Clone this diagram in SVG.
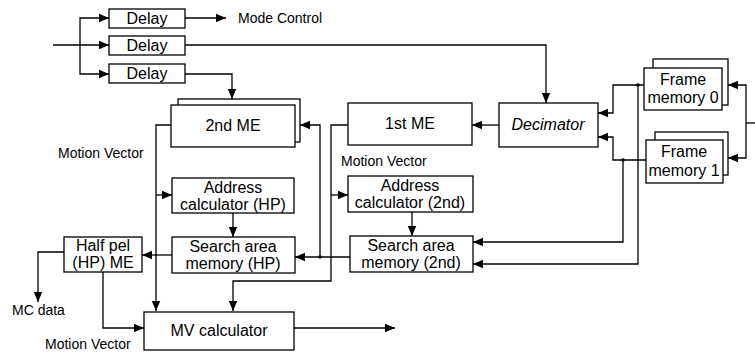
<svg xmlns="http://www.w3.org/2000/svg" width="755" height="354" viewBox="0 0 755 354">
<defs>
<marker id="ah" markerUnits="userSpaceOnUse" markerWidth="10" markerHeight="10" viewBox="0 0 10 10" refX="10" refY="5" orient="auto">
<path d="M0,0.8 L10,5 L0,9.2 Z" fill="#000"/>
</marker>
<style>
.b{fill:#fff;stroke:#000;stroke-width:1.3}
.c{fill:none;stroke:#000;stroke-width:1.3}
.a{marker-end:url(#ah)}
text{font-family:"Liberation Sans",Arial,sans-serif;fill:#000}
.t{font-size:16px;text-anchor:middle}
.l{font-size:14px}
.i{font-style:italic}
</style>
</defs>
<rect width="755" height="354" fill="#fff"/>
<g id="connectors">
<path class="c a" d="M53,45 H109"/>
<path class="c a" d="M80,45 V18 H109"/>
<path class="c a" d="M80,45 V74 H109"/>
<path class="c a" d="M185,18 H226"/>
<path class="c a" d="M185,45 H546 V103"/>
<path class="c a" d="M185,74 H232 V99"/>
<path class="c a" d="M320,257 V125 H300"/>
<path class="c a" d="M499,125 H472"/>
<path class="c a" d="M171,125 H156 V311"/>
<path class="c a" d="M156,195 H172"/>
<path class="c a" d="M348,125 H331 V281 H233 V311"/>
<path class="c a" d="M331,195 H348"/>
<path class="c a" d="M233,213 V237"/>
<path class="c a" d="M412,212 V236"/>
<path class="c a" d="M350,257 H295"/>
<path class="c a" d="M172,255 H142"/>
<path class="c a" d="M64,252 H38 V302"/>
<path class="c a" d="M103,272 V328 H144"/>
<path class="c a" d="M294,328 H395"/>
<path class="c" d="M755,123 H746"/>
<path class="c a" d="M746,123 V85 H728"/>
<path class="c a" d="M746,123 V158 H728"/>
<path class="c a" d="M644,85 H613 V113 H598"/>
<path class="c a" d="M646,160 H613 V137 H598"/>
<path class="c a" d="M638,85 V264 H473"/>
<path class="c a" d="M623,160 V242 H473"/>
<circle cx="320" cy="257" r="1.8"/>
<circle cx="638" cy="85" r="1.8"/>
<circle cx="623" cy="160" r="1.8"/>
</g>
<g id="delay1"><rect class="b" x="109" y="9" width="76" height="19"/><text class="t" x="147" y="24">Delay</text></g>
<g id="delay2"><rect class="b" x="109" y="36" width="76" height="19"/><text class="t" x="147" y="51">Delay</text></g>
<g id="delay3"><rect class="b" x="109" y="64" width="76" height="19"/><text class="t" x="147" y="79">Delay</text></g>
<g id="modecontrol"><text class="l" x="238" y="23">Mode Control</text></g>
<g id="me2"><rect class="b" x="178" y="99" width="122" height="43"/><rect class="b" x="171" y="105" width="124" height="42"/><text class="t" x="233" y="131">2nd ME</text></g>
<g id="me1"><rect class="b" x="348" y="103" width="124" height="42"/><text class="t" x="410" y="129">1st ME</text></g>
<g id="decimator"><rect class="b" x="499" y="103" width="99" height="44"/><text class="t i" x="548" y="130">Decimator</text></g>
<g id="mv1"><text class="l" x="58" y="158">Motion Vector</text></g>
<g id="mv2"><text class="l" x="341" y="166">Motion Vector</text></g>
<g id="addrhp"><rect class="b" x="172" y="178" width="122" height="35"/><text class="t" x="233" y="193">Address</text><text class="t" x="233" y="210">calculator (HP)</text></g>
<g id="addr2"><rect class="b" x="348" y="176" width="125" height="36"/><text class="t" x="410" y="191">Address</text><text class="t" x="410" y="208">calculator (2nd)</text></g>
<g id="searchhp"><rect class="b" x="172" y="237" width="123" height="36"/><text class="t" x="233" y="252">Search area</text><text class="t" x="233" y="269">memory (HP)</text></g>
<g id="search2"><rect class="b" x="350" y="236" width="123" height="36"/><text class="t" x="411" y="251">Search area</text><text class="t" x="411" y="268">memory (2nd)</text></g>
<g id="halfpel"><rect class="b" x="64" y="237" width="78" height="35"/><text class="t" x="103" y="251">Half pel</text><text class="t" x="103" y="268">(HP) ME</text></g>
<g id="mcdata"><text class="l" x="12" y="315">MC data</text></g>
<g id="mv3"><text class="l" x="45" y="349">Motion Vector</text></g>
<g id="mvcalc"><rect class="b" x="144" y="312" width="150" height="38"/><text class="t" x="219" y="336">MV calculator</text></g>
<g id="fm0"><rect class="b" x="653" y="59" width="75" height="46"/><rect class="b" x="644" y="68" width="78" height="42"/><text class="t" x="683" y="85">Frame</text><text class="t" x="683" y="103">memory 0</text></g>
<g id="fm1"><rect class="b" x="655" y="132" width="73" height="43"/><rect class="b" x="646" y="140" width="77" height="43"/><text class="t" x="684" y="157">Frame</text><text class="t" x="684" y="176">memory 1</text></g>
</svg>
